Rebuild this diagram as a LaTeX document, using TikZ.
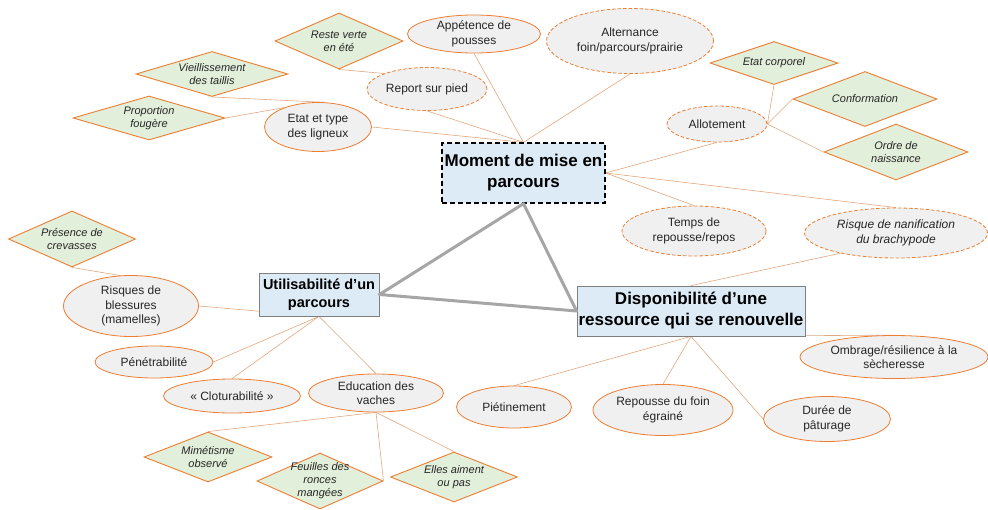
\documentclass[tikz,border=0pt]{standalone}
\usepackage{fontspec}
\setmainfont{Liberation Sans}
\usetikzlibrary{shapes.geometric,backgrounds}
\definecolor{orangeR}{HTML}{ED7D31}
\definecolor{lienC}{HTML}{E2A77E}
\definecolor{bulleC}{HTML}{F0F0F0}
\definecolor{vertC}{HTML}{E2EFDA}
\definecolor{bleuC}{HTML}{DDEBF7}
\definecolor{cadreC}{HTML}{7F7F7F}
\definecolor{triC}{HTML}{A6A6A6}
\definecolor{texteC}{HTML}{262626}

\begin{document}
\begin{tikzpicture}[x=1pt,y=-1pt,
    bulle/.style 2 args = {ellipse, draw=orangeR, line width=0.8pt, fill=bulleC, inner sep=0pt,
        minimum width=#1pt, minimum height=#2pt, align=center, text=texteC,
        font=\fontsize{12}{14.5}\selectfont},
    tirets/.style = {dash pattern=on 3.5pt off 2pt},
    losange/.style 2 args = {diamond, draw=orangeR, line width=0.9pt, fill=vertC, inner sep=0pt,
        minimum width=#1pt, minimum height=#2pt},
    ltexte/.style = {align=center, text=texteC, inner sep=0pt, font=\fontsize{11}{13}\selectfont\itshape},
    cadre/.style 2 args = {rectangle, draw=cadreC, line width=0.8pt, fill=bleuC, inner sep=0pt,
        minimum width=#1pt, minimum height=#2pt, align=center, text=black,
        font=\fontsize{17}{21}\selectfont\bfseries},
    lien/.style = {draw=lienC, line width=0.6pt}]
    \useasboundingbox (0,0) rectangle (988,509);

    % Les trois cadres
    \node (Mo) at (523.5,173) [cadre={163}{60}, draw=black, line width=1.3pt, dash pattern=on 5pt off 3pt] {Moment de mise en\\parcours};
    \node (Ut) at (319,294.5) [cadre={120}{43}, font=\fontsize{14.5}{17.5}\selectfont\bfseries] {Utilisabilité d’un\\parcours};
    \node (Di) at (691,311) [cadre={228}{50}] {Disponibilité d’une\\ressource qui se renouvelle};
    \draw[triC, line width=3pt, line join=round] (Mo.south) -- (Ut.east) -- (Di.west) -- cycle;

    % Facteurs autour du moment de mise en parcours
    \node (Ap) at (474,34) [bulle={133}{38}] {Appétence de\\pousses};
    \node (Al) at (630,41) [bulle={167}{65}, tirets] {Alternance\\foin/parcours/prairie};
    \node (Re) at (427,89) [bulle={120}{43}, tirets] {Report sur pied};
    \node (Et) at (318,127) [bulle={107}{49}] {Etat et type\\des ligneux};
    \node (Lo) at (717,124) [bulle={100}{36}, tirets] {Allotement};
    \node (Te) at (694,231) [bulle={144}{50}, tirets] {Temps de\\repousse/repos};
    \node (Rn) at (896,233) [bulle={183}{50}, tirets, font=\fontsize{12}{14.5}\selectfont\itshape] {Risque de nanification\\du brachypode};

    \node (Rv) at (339,41) [losange={128}{56}, label={[ltexte]center:{Reste verte\\en été}}] {};
    \node (Vi) at (212,74) [losange={152}{45}, label={[ltexte]center:{Vieillissement\\des taillis}}] {};
    \node (Pf) at (149,118) [losange={152}{44}, label={[ltexte]center:{Proportion\\fougère}}] {};
    \node (Ec) at (774,63) [losange={128}{43}, label={[ltexte]center:{Etat corporel}}] {};
    \node (Cf) at (865,99) [losange={144}{55}, label={[ltexte]center:{Conformation}}] {};
    \node (On) at (896,152) [losange={144}{56}, label={[ltexte]center:{Ordre de\\naissance}}] {};

    % Facteurs de l'utilisabilite
    \node (Ri) at (131,306) [bulle={135}{61}] {Risques de\\blessures\\(mamelles)};
    \node (Pe) at (154,362) [bulle={118}{32}] {Pénétrabilité};
    \node (Cl) at (232,396) [bulle={137}{34}] {« Cloturabilité »};
    \node (Ed) at (376,393) [bulle={135}{38}] {Education des\\vaches};
    \node (Pc) at (72,239) [losange={127}{56}, label={[ltexte]center:{Présence de\\crevasses}}] {};
    \node (Mi) at (208,457) [losange={128}{50}, label={[ltexte]center:{Mimétisme\\observé}}] {};
    \node (Fe) at (320,481) [losange={126}{56}, label={[ltexte]center:{Feuilles des\\ronces\\mangées}}] {};
    \node (Ea) at (454,477) [losange={127}{50}, label={[ltexte]center:{Elles aiment\\ou pas}}] {};

    % Facteurs de la disponibilite
    \node (Pi) at (514,407) [bulle={115}{42}] {Piétinement};
    \node (Rf) at (663,410) [bulle={140}{51}] {Repousse du foin\\égrainé};
    \node (Du) at (827,419) [bulle={127}{45}] {Durée de\\pâturage};
    \node (Om) at (894,357) [bulle={188}{43}] {Ombrage/résilience à la\\sècheresse};

    % Liens (sous les noeuds)
    \begin{pgfonlayer}{background}
    \draw[lien] (Et.east) -- (Mo.north);
    \draw[lien] (Re.south) -- (Mo.north);
    \draw[lien] (Ap.south) -- (Mo.north);
    \draw[lien] (Al.south) -- (Mo.north);
    \draw[lien] (Rv.south) -- (Re.north west);
    \draw[lien] (Vi.south) -- (Et.75);
    \draw[lien] (Pf.east) -- (Et.150);
    \draw[lien] (Mo.east) -- (Lo.south);
    \draw[lien] (Mo.east) -- (Te.north);
    \draw[lien] (Mo.east) -- (Rn.north);
    \draw[lien] (Lo.east) -- (Ec.south);
    \draw[lien] (Lo.east) -- (Cf.west);
    \draw[lien] (Lo.east) -- (On.west);

    \draw[lien] (Ri.east) -- (Ut.south);
    \draw[lien] (Pe.east) -- (Ut.south);
    \draw[lien] (Cl.north) -- (Ut.south);
    \draw[lien] (Ed.north) -- (Ut.south);
    \draw[lien] (Pc.south) -- (Ri.110);
    \draw[lien] (Ed.south) -- (Mi.north);
    \draw[lien] (Ed.south) -- (Fe.east);
    \draw[lien] (Ed.south) -- (Ea.north);

    \draw[lien] (Di.north) -- (Rn.200);
    \draw[lien] (Di.south) -- (Pi.north);
    \draw[lien] (Di.south) -- (Rf.north);
    \draw[lien] (Di.south) -- (Du.west);
    \draw[lien] (Di.south) -- (Om.north);
    \end{pgfonlayer}
\end{tikzpicture}
\end{document}
